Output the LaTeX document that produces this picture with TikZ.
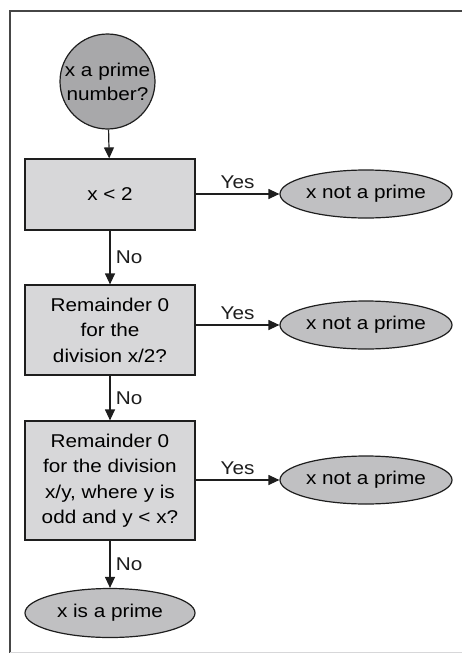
\documentclass[tikz,border=0pt]{standalone}
\usepackage{fontspec}
\setmainfont{Liberation Sans}[FakeStretch=1.12]
\usepackage{tikz}
\usetikzlibrary{shapes.geometric, arrows.meta, positioning}
\definecolor{mydark}{RGB}{30,30,30}
\definecolor{myframe}{RGB}{70,70,70}
\definecolor{mylight}{RGB}{215,215,217}
\definecolor{mygrey}{RGB}{192,192,194}
\definecolor{mydeep}{RGB}{168,168,170}
\tikzset{
  decision/.style={rectangle, draw=mydark, fill=mylight,
    minimum width=170pt, align=center, line width=1.2pt,
    font=\fontsize{18.5}{25.5}\selectfont},
  outcome/.style={ellipse, draw=mydark, fill=mygrey,
    minimum width=172pt, minimum height=48pt, inner sep=0pt,
    font=\fontsize{18.5}{25.5}\selectfont, line width=1.2pt},
  startnode/.style={circle, draw=mydark, fill=mydeep,
    minimum size=95pt, inner sep=0pt, align=center, line width=1.2pt,
    font=\fontsize{18.5}{24}\selectfont},
  lbl/.style={font=\fontsize{18.5}{23}\selectfont, align=center},
  arrow/.style={-{Triangle[width=10pt,length=11pt]}, line width=1.2pt, color=mydark}
}
\begin{document}
\begin{tikzpicture}[x=1pt, y=-1pt]
  \useasboundingbox (0,0) rectangle (462,653);
  % frame
  \draw[line width=2pt, color=myframe] (462,11) -- (10,11) -- (10,653);
  \draw[line width=0.6pt, color=mylight] (10,652) -- (462,652);

  % start
  \node[startnode] (start) at (107.5,81.5) {x a prime\\number?};

  % tests
  \node[decision, minimum height=71pt] (test1) at (110,194.5) {x < 2};
  \node[decision, minimum height=90pt] (test2) at (110,330) {Remainder 0\\for the\\division x/2?};
  \node[decision, minimum height=119pt] (test3) at (110,480.5) {Remainder 0\\for the division\\x/y, where y is\\odd and y < x?};

  % outcomes
  \node[outcome] (nop1) at (366,194) {x not a prime};
  \node[outcome] (nop2) at (366,325) {x not a prime};
  \node[outcome] (nop3) at (366,480) {x not a prime};
  \node[outcome, minimum width=170pt, minimum height=49pt] (prime) at (110,613) {x is a prime};

  % connectors
  \draw[arrow] (start) -- (test1);
  \draw[arrow] (test1) -- node[lbl, right, xshift=2pt] {No} (test2);
  \draw[arrow] (test2) -- node[lbl, right, xshift=2pt] {No} (test3);
  \draw[arrow] (test3) -- node[lbl, right, xshift=2pt] {No} (prime);
  \draw[arrow] (test1.east |- nop1) -- node[lbl, above, yshift=1pt] {Yes} (nop1.west);
  \draw[arrow] (test2.east |- nop2) -- node[lbl, above, yshift=1pt] {Yes} (nop2.west);
  \draw[arrow] (test3.east |- nop3) -- node[lbl, above, yshift=1pt] {Yes} (nop3.west);
\end{tikzpicture}
\end{document}
